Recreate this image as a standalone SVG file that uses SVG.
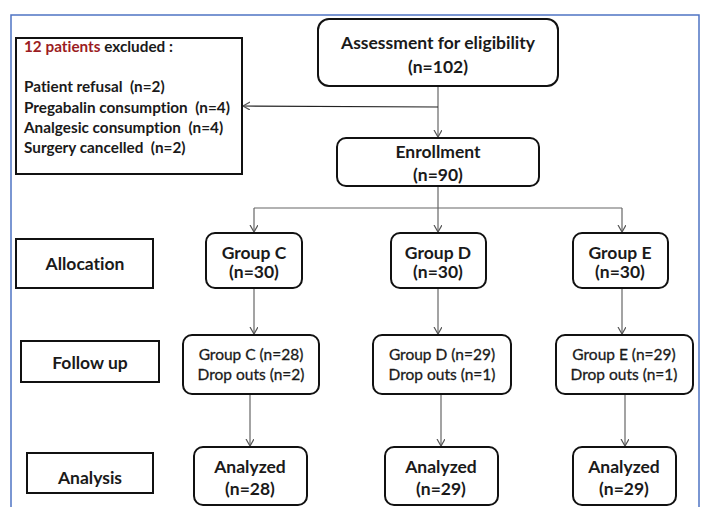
<svg xmlns="http://www.w3.org/2000/svg" width="702" height="507" viewBox="0 0 702 507">
<style>
text{font-family:Lato,"Liberation Sans",sans-serif;fill:#1a1a1a;font-variant-ligatures:none;}
.b{font-weight:bold;font-size:17.5px;text-anchor:middle;}
.r{font-size:15.5px;text-anchor:middle;stroke:#1a1a1a;stroke-width:0.3;}
.ex{font-weight:bold;font-size:15.3px;white-space:pre;}
.box{fill:#fff;stroke:#111;stroke-width:2;}
.con{stroke:#666;stroke-width:1.2;fill:none;}
</style>
<defs>
<marker id="ah" markerWidth="10" markerHeight="10" refX="7" refY="4" orient="auto" markerUnits="userSpaceOnUse">
<path d="M0,0 L7,4 L0,8" fill="none" stroke="#555" stroke-width="1.2"/>
</marker>
</defs>
<rect x="0" y="0" width="702" height="507" fill="#fff"/>
<path d="M11,507 V15 H699 V507" fill="none" stroke="#4f74c4" stroke-width="1.5"/>
<g id="connectors">
<line class="con" x1="438" y1="86" x2="438" y2="137" marker-end="url(#ah)"/>
<line class="con" x1="438" y1="107" x2="243" y2="106" marker-end="url(#ah)" style="stroke:#222"/>
<line class="con" x1="438" y1="186" x2="438" y2="208"/>
<line class="con" x1="254" y1="208" x2="622" y2="208"/>
<line class="con" x1="254" y1="208" x2="254" y2="232" marker-end="url(#ah)"/>
<line class="con" x1="438" y1="208" x2="438" y2="232" marker-end="url(#ah)"/>
<line class="con" x1="622" y1="208" x2="622" y2="232" marker-end="url(#ah)"/>
<line class="con" x1="254" y1="288" x2="254" y2="334" marker-end="url(#ah)"/>
<line class="con" x1="438" y1="288" x2="438" y2="334" marker-end="url(#ah)"/>
<line class="con" x1="622" y1="288" x2="622" y2="334" marker-end="url(#ah)"/>
<line class="con" x1="250" y1="394" x2="250" y2="446" marker-end="url(#ah)"/>
<line class="con" x1="441" y1="394" x2="441" y2="446" marker-end="url(#ah)"/>
<line class="con" x1="625" y1="394" x2="625" y2="446" marker-end="url(#ah)"/>
</g>
<g id="excluded">
<rect class="box" x="16" y="38" width="226" height="136"/>
<text class="ex" x="24" y="52"><tspan fill="#9b1c22">12 patients</tspan> excluded :</text>
<text class="ex" x="24" y="92">Patient refusal  (n=2)</text>
<text class="ex" x="24" y="113">Pregabalin consumption  (n=4)</text>
<text class="ex" x="24" y="133">Analgesic consumption  (n=4)</text>
<text class="ex" x="24" y="153">Surgery cancelled  (n=2)</text>
</g>
<g id="assessment">
<rect class="box" x="318" y="19" width="240" height="67" rx="11"/>
<text class="b" x="438" y="49">Assessment for eligibility</text>
<text class="b" x="438" y="73">(n=102)</text>
</g>
<g id="enrollment">
<rect class="box" x="337" y="138" width="202" height="48" rx="9"/>
<text class="b" x="438" y="158">Enrollment</text>
<text class="b" x="438" y="181">(n=90)</text>
</g>
<g id="allocation">
<rect class="box" x="16" y="239" width="137" height="49"/>
<text class="b" x="85" y="270">Allocation</text>
</g>
<g id="groupC">
<rect class="box" x="206" y="233" width="96" height="55" rx="9"/>
<text class="b" x="254" y="259">Group C</text>
<text class="b" x="254" y="278">(n=30)</text>
</g>
<g id="groupD">
<rect class="box" x="391" y="233" width="95" height="55" rx="9"/>
<text class="b" x="438" y="259">Group D</text>
<text class="b" x="438" y="278">(n=30)</text>
</g>
<g id="groupE">
<rect class="box" x="573" y="233" width="95" height="55" rx="9"/>
<text class="b" x="620" y="259">Group E</text>
<text class="b" x="620" y="278">(n=30)</text>
</g>
<g id="followup">
<rect class="box" x="21" y="341" width="138" height="41"/>
<text class="b" x="90" y="369">Follow up</text>
</g>
<g id="followC">
<rect class="box" x="183" y="335" width="136" height="59" rx="9"/>
<text class="r" x="251" y="360">Group C (n=28)</text>
<text class="r" x="251" y="380">Drop outs (n=2)</text>
</g>
<g id="followD">
<rect class="box" x="373" y="335" width="138" height="59" rx="9"/>
<text class="r" x="442" y="360">Group D (n=29)</text>
<text class="r" x="442" y="380">Drop outs (n=1)</text>
</g>
<g id="followE">
<rect class="box" x="556" y="335" width="137" height="59" rx="9"/>
<text class="r" x="624" y="360">Group E (n=29)</text>
<text class="r" x="624" y="380">Drop outs (n=1)</text>
</g>
<g id="analysis">
<rect class="box" x="27" y="453" width="126" height="40"/>
<text class="b" x="90" y="484">Analysis</text>
</g>
<g id="analyzedC">
<rect class="box" x="194" y="447" width="113" height="58" rx="9"/>
<text class="b" x="250" y="473">Analyzed</text>
<text class="b" x="250" y="495">(n=28)</text>
</g>
<g id="analyzedD">
<rect class="box" x="385" y="447" width="113" height="58" rx="9"/>
<text class="b" x="441" y="473">Analyzed</text>
<text class="b" x="441" y="495">(n=29)</text>
</g>
<g id="analyzedE">
<rect class="box" x="573" y="447" width="103" height="58" rx="9"/>
<text class="b" x="624" y="473">Analyzed</text>
<text class="b" x="624" y="495">(n=29)</text>
</g>
</svg>
